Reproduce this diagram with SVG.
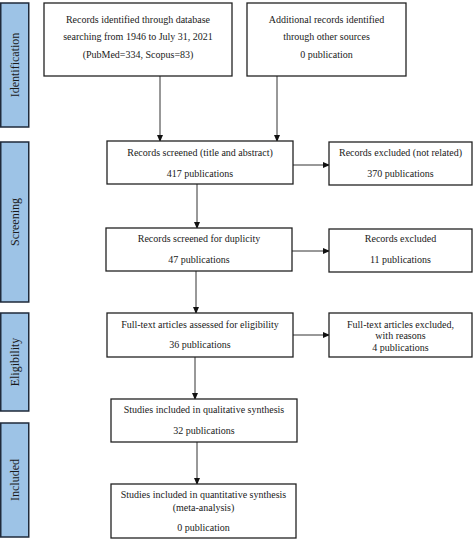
<svg xmlns="http://www.w3.org/2000/svg" width="474" height="539" viewBox="0 0 474 539">
<style>
.band{fill:#9dc3e6;stroke:#1f2a3a;stroke-width:1.5}
.bt{font-family:"Liberation Serif","Times New Roman",serif;font-size:12px;fill:#1a1a1a;text-anchor:middle}
.box{fill:#fff;stroke:#222;stroke-width:1.3}
.t{font-family:"Liberation Serif","Times New Roman",serif;font-size:10px;fill:#1a1a1a;text-anchor:middle}
.c{stroke:#333;stroke-width:1;fill:none}
</style>
<defs>
<marker id="ah" markerWidth="7" markerHeight="6" refX="6" refY="3" orient="auto" markerUnits="userSpaceOnUse">
<path d="M0,0 L7,3 L0,6 Z" fill="#111"/>
</marker>
</defs>
<rect width="474" height="539" fill="#fff"/>
<g id="band-identification"><rect class="band" x="0.75" y="3" width="28" height="124"/><text class="bt" transform="translate(19,65) rotate(-90)">Identification</text></g>
<g id="band-screening"><rect class="band" x="0.75" y="142" width="28" height="160"/><text class="bt" transform="translate(19,222) rotate(-90)">Screening</text></g>
<g id="band-eligibility"><rect class="band" x="0.75" y="313" width="28" height="98"/><text class="bt" transform="translate(19,362) rotate(-90)">Eligibility</text></g>
<g id="band-included"><rect class="band" x="0.75" y="423" width="28" height="114"/><text class="bt" transform="translate(19,480) rotate(-90)">Included</text></g>
<g id="connectors">
<line class="c" x1="160" y1="76" x2="160" y2="141" marker-end="url(#ah)"/>
<line class="c" x1="277" y1="76" x2="277" y2="141" marker-end="url(#ah)"/>
<line class="c" x1="293" y1="165" x2="329" y2="165" marker-end="url(#ah)"/>
<line class="c" x1="197" y1="184" x2="197" y2="228" marker-end="url(#ah)"/>
<line class="c" x1="292" y1="251" x2="329" y2="251" marker-end="url(#ah)"/>
<line class="c" x1="196" y1="271" x2="196" y2="313" marker-end="url(#ah)"/>
<line class="c" x1="293" y1="335" x2="329" y2="335" marker-end="url(#ah)"/>
<line class="c" x1="195" y1="357" x2="195" y2="399" marker-end="url(#ah)"/>
<line class="c" x1="197" y1="442" x2="197" y2="484" marker-end="url(#ah)"/>
</g>
<g id="n-database"><rect class="box" x="44" y="3" width="188" height="73"/>
<text class="t" x="138" y="22.5">Records identified through database</text>
<text class="t" x="138" y="40">searching from 1946 to July 31, 2021</text>
<text class="t" x="138" y="57.5">(PubMed=334, Scopus=83)</text></g>
<g id="n-additional"><rect class="box" x="247" y="3" width="159" height="73"/>
<text class="t" x="326.5" y="22.5">Additional records identified</text>
<text class="t" x="326.5" y="40">through other sources</text>
<text class="t" x="326.5" y="57.5">0 publication</text></g>
<g id="n-screened"><rect class="box" x="107" y="141" width="186" height="43"/>
<text class="t" x="200" y="156">Records screened (title and abstract)</text>
<text class="t" x="200" y="177">417 publications</text></g>
<g id="n-excl1"><rect class="box" x="329" y="142" width="143" height="43"/>
<text class="t" x="400.5" y="156">Records excluded (not related)</text>
<text class="t" x="400.5" y="177">370 publications</text></g>
<g id="n-duplicity"><rect class="box" x="106" y="228" width="186" height="43"/>
<text class="t" x="199" y="242">Records screened for duplicity</text>
<text class="t" x="199" y="263">47 publications</text></g>
<g id="n-excl2"><rect class="box" x="329" y="229" width="143" height="43"/>
<text class="t" x="400.5" y="242">Records excluded</text>
<text class="t" x="400.5" y="263">11 publications</text></g>
<g id="n-eligibility"><rect class="box" x="107" y="313" width="186" height="44"/>
<text class="t" x="200" y="327.5">Full-text articles assessed for eligibility</text>
<text class="t" x="200" y="348">36 publications</text></g>
<g id="n-excl3"><rect class="box" x="329" y="313" width="143" height="44"/>
<text class="t" x="400.5" y="327.5">Full-text articles excluded,</text>
<text class="t" x="400.5" y="339">with reasons</text>
<text class="t" x="400.5" y="351">4 publications</text></g>
<g id="n-qualitative"><rect class="box" x="111" y="399" width="186" height="43"/>
<text class="t" x="204" y="413">Studies included in qualitative synthesis</text>
<text class="t" x="204" y="434">32 publications</text></g>
<g id="n-quantitative"><rect class="box" x="111" y="484" width="185" height="54"/>
<text class="t" x="203.5" y="498">Studies included in quantitative synthesis</text>
<text class="t" x="203.5" y="511">(meta-analysis)</text>
<text class="t" x="203.5" y="531">0 publication</text></g>
</svg>
